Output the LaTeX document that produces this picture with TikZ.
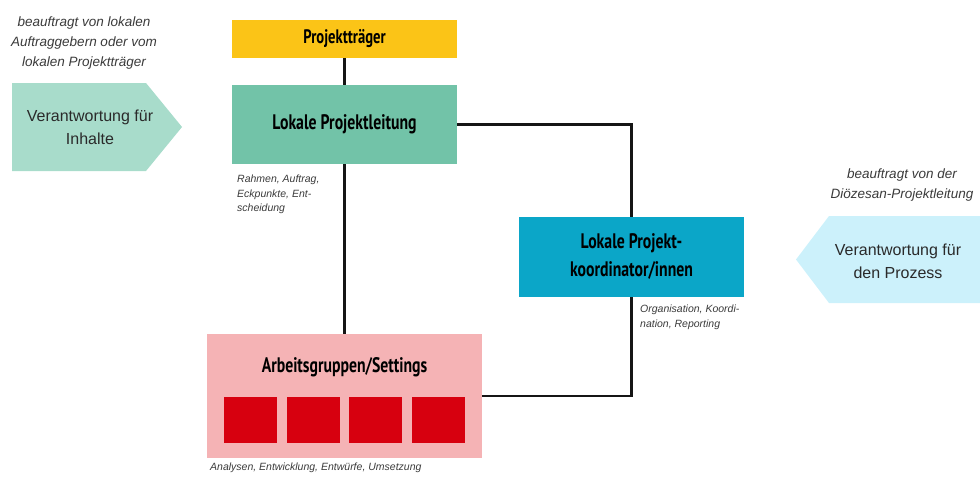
\documentclass[tikz,border=0pt]{standalone}
\usepackage{fontspec}
\setmainfont{Liberation Sans}
\newfontfamily\ttlfont[FakeStretch=0.75]{PT Sans}
\definecolor{cyellow}{HTML}{FBC417}
\definecolor{cteal}{HTML}{72C3A8}
\definecolor{cltteal}{HTML}{A8DCCB}
\definecolor{cblue}{HTML}{0BA6C8}
\definecolor{cltblue}{HTML}{CCF1FB}
\definecolor{cpink}{HTML}{F5B3B5}
\definecolor{cred}{HTML}{D7000F}
\definecolor{cline}{HTML}{151515}
\definecolor{ctext}{HTML}{2A2A2A}
\definecolor{cnote}{HTML}{3A3A3A}
\begin{document}
\begin{tikzpicture}[x=1pt,y=-1pt,
  box/.style={draw=none,inner sep=0pt,minimum width=225pt},
  ttl/.style={font=\ttlfont\bfseries\fontsize{21}{28}\selectfont,text=black,align=center},
  bigtxt/.style={font=\fontsize{16}{23}\selectfont,text=ctext,align=center,inner sep=0pt},
  note/.style={font=\itshape\fontsize{13.5}{20}\selectfont,text=cnote,align=center,inner sep=0pt},
  small/.style={font=\itshape\fontsize{10.5}{14.5}\selectfont,text=cnote,align=left,inner sep=0pt,anchor=north west},
  conn/.style={draw=cline,line width=2.6pt},
  sq/.style={fill=cred,inner sep=0pt,minimum width=53pt,minimum height=46pt}]
\useasboundingbox (0,0) rectangle (980,479);

% left arrow
\fill[cltteal] (12,83) -- (146,83) -- (182,127) -- (146,171) -- (12,171) -- cycle;
\node[bigtxt] (lat) at (90,127) {Verantwortung für\\Inhalte};
\node[note] (ln) at (84,43) {beauftragt von lokalen\\Auftraggebern oder vom\\lokalen Projektträger};

% right arrow
\fill[cltblue] (981,216) -- (829,216) -- (796,259.5) -- (829,303) -- (981,303) -- cycle;
\node[bigtxt] (rat) at (898,261) {Verantwortung für\\den Prozess};
\node[note] (rn) at (902,185) {beauftragt von der\\Diözesan-Projektleitung};

% boxes
\node[box,fill=cyellow,minimum height=38pt] (pt) at (344.5,39) {};
\node[ttl,font=\ttlfont\bfseries\fontsize{19.5}{22}\selectfont] (ptt) at (pt.center) {Projektträger};
\node[box,fill=cteal,minimum height=79pt] (pl) at (344.5,124.5) {};
\node[ttl] (plt) at (pl.center) {Lokale Projektleitung};
\node[box,fill=cblue,minimum height=80pt] (ko) at (631.5,257) {};
\node[ttl] (kot) at (ko.center) {Lokale Projekt-\\koordinator/innen};
\node[box,fill=cpink,minimum width=275pt,minimum height=124pt] (ag) at (344.5,396) {};
\node[ttl] (agt) at (344.5,367) {Arbeitsgruppen/Settings};
\node[sq] (s1) at (250.5,420) {};
\node[sq] (s2) at (313,420) {};
\node[sq] (s3) at (375.5,420) {};
\node[sq] (s4) at (438.5,420) {};

% connectors
\draw[conn] (pt.south) -- (pl.north);
\draw[conn] (pl.south) -- (ag.north);
\draw[conn] (pl.east) -| (ko.north);
\draw[conn] (ko.south) |- (ag.east);

% small labels
\node[small] (l1) at (237,175) {Rahmen, Auftrag,\\Eckpunkte, Ent-\\scheidung};
\node[small] (l2) at (640,305) {Organisation, Koordi-\\nation, Reporting};
\node[small] (l3) at (210,463) {Analysen, Entwicklung, Entwürfe, Umsetzung};
\end{tikzpicture}
\end{document}
